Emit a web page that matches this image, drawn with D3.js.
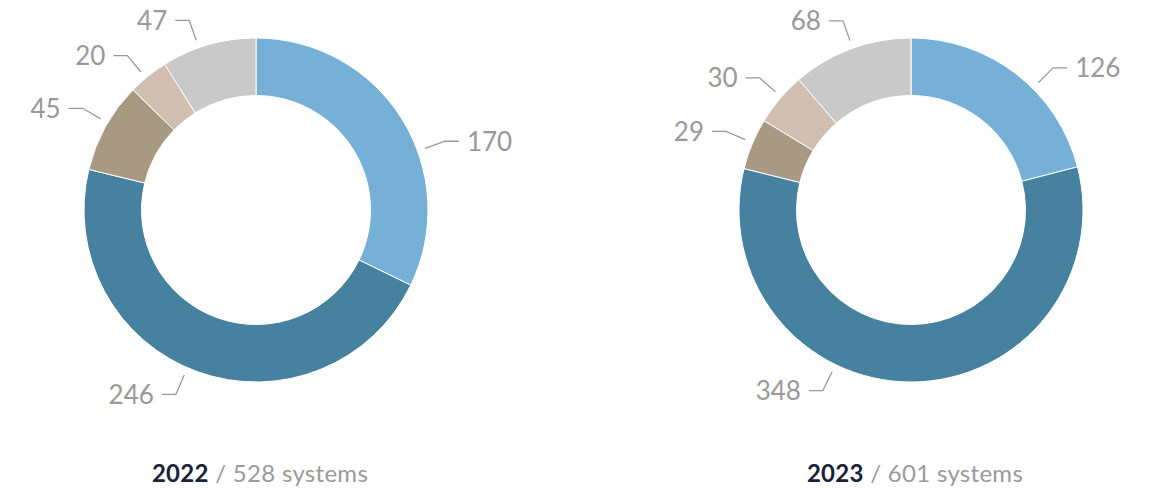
<!DOCTYPE html>
<html>
<head>
<meta charset="utf-8">
<script src="https://cdn.jsdelivr.net/npm/d3@7"></script>
<style>
  body { margin: 0; background: #fff; }
  svg { display: block; font-family: Lato, "Open Sans", sans-serif; }
</style>
</head>
<body>
<svg id="chart"></svg>
<script>
// data
var categories = ["A", "B", "C", "D", "E"];
var values2022 = [170, 246, 45, 20, 47];
var values2023 = [126, 348, 29, 30, 68];
var years = ["2022", "2023"];
var totals = [528, 601];

// layout: label angle (degrees from top, clockwise) for each slice
var labelAngles2022 = [70, 203.5, 300.4, 320.2, 340.6];
var labelAngles2023 = [45, 206, 293, 311.1, 340.2];

var width = 1151, height = 489;
var colors = ["#76b0d7", "#46819f", "#a89a82", "#d0bfb0", "#c8c9c8"];

var svg = d3.select("#chart")
    .attr("width", width)
    .attr("height", height);

var outerR = 172, innerR = 114.5;

var pie = d3.pie().sort(null).value(function(d) { return d; });
var arc = d3.arc().innerRadius(innerR).outerRadius(outerR);

function drawDonut(vals, angles, cx, cy, year, total) {
    var g = svg.append("g")
        .attr("transform", "translate(" + cx + "," + cy + ")");

    g.selectAll("path.slice")
        .data(pie(vals))
        .enter().append("path")
        .attr("class", "slice")
        .attr("d", arc)
        .attr("fill", function(d, i) { return colors[i]; })
        .attr("stroke", "#fff")
        .attr("stroke-width", 1);

    vals.forEach(function(v, i) {
        var a = angles[i] * Math.PI / 180;
        var x1 = 180 * Math.sin(a), y1 = -180 * Math.cos(a);
        var x2 = 201 * Math.sin(a), y2 = -201 * Math.cos(a);
        var right = Math.sin(a) > 0;
        var x3 = x2 + (right ? 14 : -14);
        g.append("polyline")
            .attr("points", [[x1, y1], [x2, y2], [x3, y2]].join(" "))
            .attr("fill", "none")
            .attr("stroke", "#9a9a9a")
            .attr("stroke-width", 1.3);
        g.append("text")
            .attr("x", x3 + (right ? 8 : -8))
            .attr("y", y2)
            .attr("dy", "0.36em")
            .attr("text-anchor", right ? "start" : "end")
            .attr("fill", "#999")
            .style("font-size", "26px")
            .text(v);
    });

    var t = svg.append("text")
        .attr("x", cx + 4)
        .attr("y", 482)
        .attr("text-anchor", "middle")
        .style("font-size", "24px")
        .style("letter-spacing", "0.3px");
    t.append("tspan")
        .attr("font-weight", "bold")
        .attr("fill", "#1b2238")
        .text(year);
    t.append("tspan")
        .attr("fill", "#9a9a9a")
        .text(" / " + total + " systems");
}

drawDonut(values2022, labelAngles2022, 256, 210, years[0], totals[0]);
drawDonut(values2023, labelAngles2023, 911, 210, years[1], totals[1]);
</script>
</body>
</html>
